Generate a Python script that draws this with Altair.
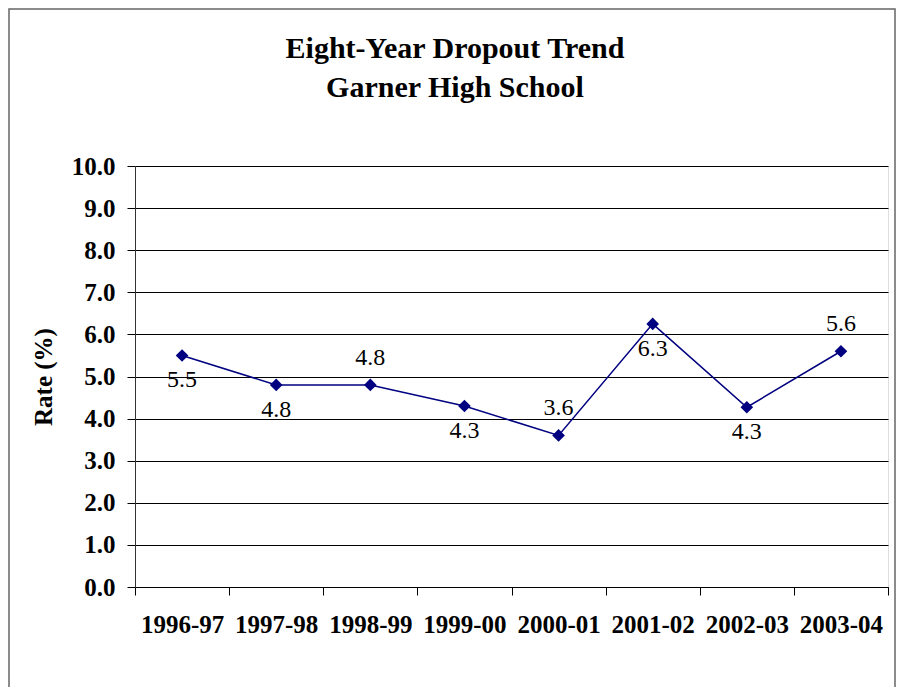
import altair as alt
import pandas as pd

years = ["1996-97", "1997-98", "1998-99", "1999-00", "2000-01", "2001-02", "2002-03", "2003-04"]
rates = [5.5, 4.8, 4.8, 4.3, 3.6, 6.25, 4.27, 5.6]
labels = ["5.5", "4.8", "4.8", "4.3", "3.6", "6.3", "4.3", "5.6"]
label_side = ["below", "below", "above", "below", "above", "below", "below", "above"]
title_lines = ["Eight-Year Dropout Trend", "Garner High School"]

df = pd.DataFrame({"year": years, "rate": rates, "label": labels, "side": label_side})

FONT = "'Liberation Serif', 'Times New Roman', Times, serif"
NAVY = "#000080"

x_enc = alt.X("year:N", sort=years,
              scale=alt.Scale(type="band", paddingInner=0, paddingOuter=0),
              axis=alt.Axis(title=None, labelAngle=0, tickBand="extent", tickSize=8,
                            labelFont=FONT, labelFontSize=25, labelFontWeight="bold",
                            labelColor="black", labelPadding=17, domainColor="#000000",
                            tickColor="#000000", labelOverlap=False))
y_enc = alt.Y("rate:Q", scale=alt.Scale(domain=[0, 10], nice=False),
              axis=alt.Axis(title="Rate (%)", values=list(range(0, 11)), format=".1f",
                            tickSize=8, labelPadding=12, labelFont=FONT, labelFontSize=25,
                            labelFontWeight="bold", labelColor="black",
                            titleFont=FONT, titleFontSize=25, titleFontWeight="bold",
                            titleColor="black", titlePadding=15,
                            grid=True, gridColor="#000000", gridWidth=1,
                            domainColor="#333333", tickColor="#000000"))

base = alt.Chart(df)

line = base.mark_line(color=NAVY, strokeWidth=1.5).encode(x=x_enc, y=y_enc)
pts = base.mark_point(shape="diamond", filled=True, color=NAVY, size=160, opacity=1).encode(x=x_enc, y=y_enc)
above = base.transform_filter(alt.datum.side == "above").mark_text(
    font=FONT, fontSize=24, color="black", dy=-27).encode(x=x_enc, y=y_enc, text="label:N")
below = base.transform_filter(alt.datum.side == "below").mark_text(
    font=FONT, fontSize=24, color="black", dy=25).encode(x=x_enc, y=y_enc, text="label:N")

frame = alt.Chart(pd.DataFrame({"k": [0]})).mark_rect(
    fill=None, stroke="#666666", strokeWidth=1.5, clip=False).encode(
    x=alt.value(-126), x2=alt.value(760), y=alt.value(-157), y2=alt.value(525))

t1 = alt.Chart(pd.DataFrame({"t": [title_lines[0]]})).mark_text(
    font=FONT, fontSize=30, fontWeight="bold", color="black", align="center",
    baseline="alphabetic").encode(x=alt.value(320), y=alt.value(-108), text="t:N")
t2 = alt.Chart(pd.DataFrame({"t": [title_lines[1]]})).mark_text(
    font=FONT, fontSize=30, fontWeight="bold", color="black", align="center",
    baseline="alphabetic").encode(x=alt.value(320), y=alt.value(-69), text="t:N")

chart = alt.layer(frame, line, pts, above, below, t1, t2).properties(
    width=753, height=421,
    autosize=alt.AutoSizeParams(type="none"),
    padding={"left": 127, "top": 158, "right": 8, "bottom": 100},
).configure_view(stroke=None).configure(background="white")

chart.save("out.html", embed_options={"renderer": "svg", "actions": False})
